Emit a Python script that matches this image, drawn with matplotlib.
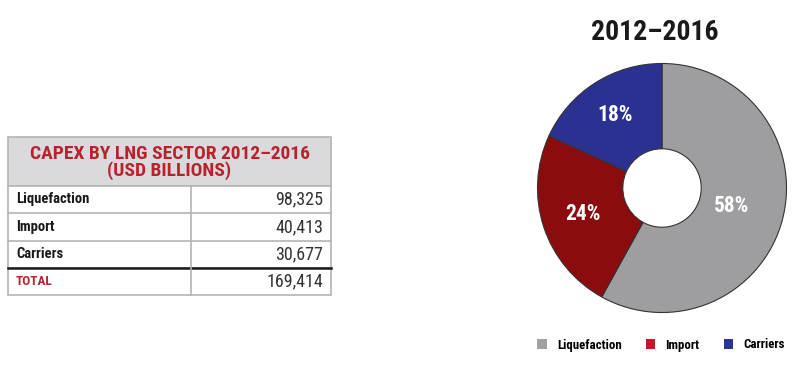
import numpy as np
import matplotlib
matplotlib.use("Agg")
import matplotlib.pyplot as plt
from matplotlib.patches import Rectangle, Patch

# data
sectors = ["Liquefaction", "Import", "Carriers"]
capex = [98325, 40413, 30677]
total_capex = 169414
table_title = "CAPEX BY LNG SECTOR 2012\u20132016\n(USD BILLIONS)"
pie_title = "2012\u20132016"

pie_colors = ["#9e9ea0", "#8a0c0f", "#2b3190"]
legend_colors = ["#a3a3a5", "#c8162b", "#2b3596"]
red_text = "#b8232b"
fonte = ["Liberation Sans Narrow", "Roboto Condensed", "DejaVu Sans Condensed", "Roboto", "DejaVu Sans"]

fig = plt.figure(figsize=(8, 3.66), dpi=100)
fig.patch.set_facecolor("white")

# --- tabela (coordenadas em pixels) ---
ax_t = fig.add_axes([0, 0, 1, 1])
ax_t.set_xlim(0, 800)
ax_t.set_ylim(366, 0)
ax_t.axis("off")

x0, x1, xm = 8, 331, 191
y_top, y_head = 137, 186
row_edges = [186, 213, 241, 268, 295]
borda = "#b4b4b4"

ax_t.add_patch(Rectangle((x0, y_top), x1 - x0, y_head - y_top, facecolor="#d9d9de", edgecolor=borda, lw=1.2))
ax_t.add_patch(Rectangle((x0, y_head), x1 - x0, row_edges[-1] - y_head, facecolor="white", edgecolor=borda, lw=1.2))
for y in row_edges[1:-1]:
    ax_t.plot([x0, x1], [y, y], color=borda, lw=1.2)
ax_t.plot([x0, x1], [row_edges[3], row_edges[3]], color="#1a1a1a", lw=1.8)
ax_t.plot([xm, xm], [y_head, row_edges[-1]], color=borda, lw=1.2)

ax_t.text((x0 + x1) / 2, (y_top + y_head) / 2 + 1, table_title, ha="center", va="center",
          color=red_text, fontsize=14, fontweight="bold", family=fonte, linespacing=0.92)

labels = sectors + ["TOTAL"]
valores = capex + [total_capex]
for i, (lab, val) in enumerate(zip(labels, valores)):
    yc = (row_edges[i] + row_edges[i + 1]) / 2
    is_total = lab == "TOTAL"
    ax_t.text(x0 + 8, yc, lab, ha="left", va="center", fontsize=9.5 if is_total else 10.5,
              fontweight="bold", color=red_text if is_total else "#1a1a1a", family=fonte)
    ax_t.text(x1 - 8, yc, f"{val:,}", ha="right", va="center", fontsize=13,
              color="#333333", family=fonte)

# --- rosca ---
ax_p = fig.add_axes([535 / 800, (366 - 315) / 366, 254 / 800, 254 / 366])
wedges, _ = ax_p.pie(capex, colors=pie_colors, startangle=90, counterclock=False,
                     radius=1.0, wedgeprops=dict(width=0.685, edgecolor="#333333", linewidth=0.8))
ax_p.set_xlim(-1.02, 1.02)
ax_p.set_ylim(-1.02, 1.02)
ax_p.set_aspect("equal")

dist_rot = [0.58, 0.67, 0.70]
for w, v, d in zip(wedges, capex, dist_rot):
    ang = np.deg2rad((w.theta1 + w.theta2) / 2)
    ax_p.text(d * np.cos(ang), d * np.sin(ang), f"{v / sum(capex) * 100:.0f}%", ha="center", va="center",
              color="white", fontsize=15.5, fontweight="bold", family=fonte)

fig.text(655 / 800, 1 - 32 / 366, pie_title, ha="center", va="center", fontsize=20,
         fontweight="bold", color="#1a1a1a", family=fonte)

handles = [Patch(facecolor=c, edgecolor="none") for c in legend_colors]
leg = fig.legend(handles, sectors, loc="center", bbox_to_anchor=(661 / 800, 1 - 345 / 366), ncol=3,
                 frameon=False, handlelength=0.75, handleheight=0.75, columnspacing=1.85, handletextpad=0.8,
                 prop=dict(family=fonte, weight="bold", size=9.3))

fig.savefig("out.png", dpi=100, facecolor="white")
